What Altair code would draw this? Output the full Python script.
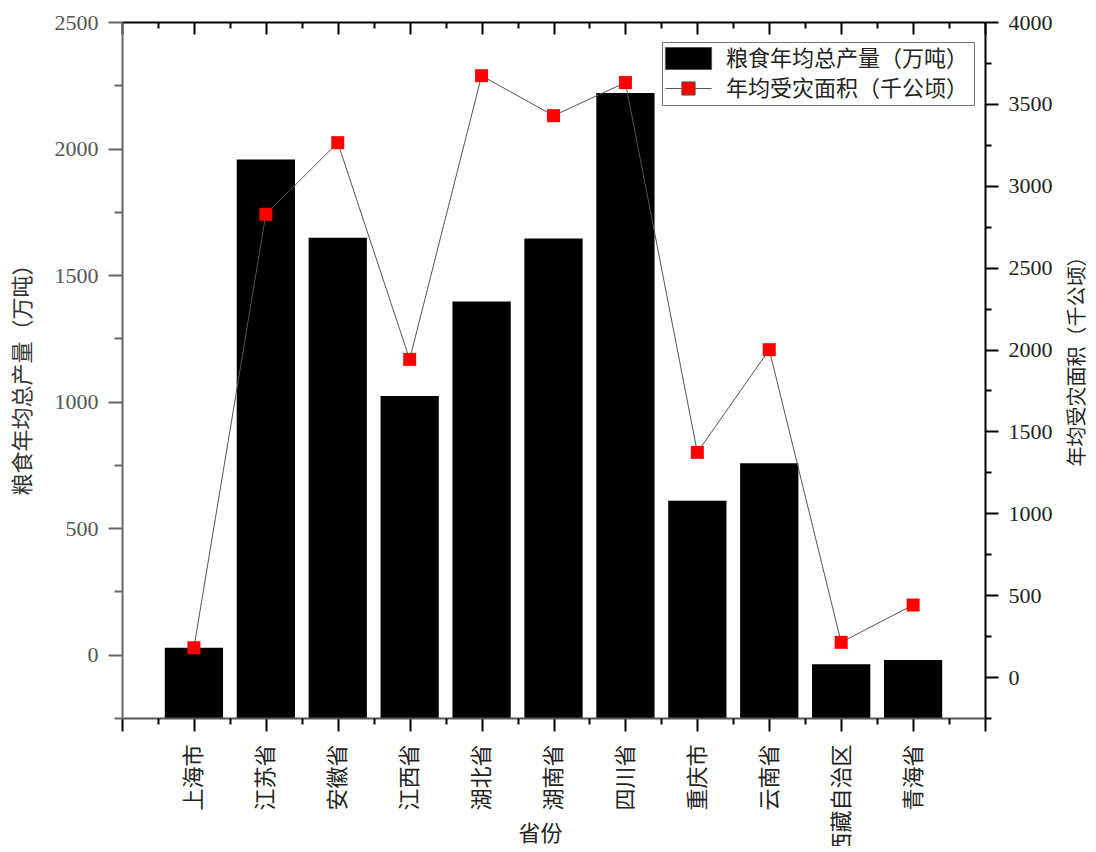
import altair as alt
import pandas as pd

# ---- data ----
provinces = ["上海市", "江苏省", "安徽省", "江西省", "湖北省", "湖南省",
             "四川省", "重庆市", "云南省", "西藏自治区", "青海省"]
grain = [28, 1957, 1648, 1022, 1396, 1645, 2219, 608, 757, -38, -21]          # 万吨 (left axis)
disaster = [179, 2826, 3263, 1940, 3672, 3428, 3630, 1372, 1999, 212, 440]    # 千公顷 (right axis)
series_names = ["粮食年均总产量（万吨）", "年均受灾面积（千公顷）"]
left_ticks = [0, 500, 1000, 1500, 2000, 2500]
left_minor = [-250, 250, 750, 1250, 1750, 2250]
right_ticks = [0, 500, 1000, 1500, 2000, 2500, 3000, 3500, 4000]
right_minor = [-250, 250, 750, 1250, 1750, 2250, 2750, 3250, 3750]
left_title = "粮食年均总产量（万吨）"
right_title = "年均受灾面积（千公顷）"
x_title = "省份"

df = pd.DataFrame({"province": provinces, "grain": grain, "disaster": disaster})
legend_df = pd.DataFrame({"series": series_names})

n = len(provinces)
W, H = 863, 696
FONT = "'Liberation Serif', 'Noto Sans CJK SC'"

xs = alt.Scale(domain=[0, n + 1], nice=False, zero=False)
yl = alt.Scale(domain=[-250, 2500], nice=False, zero=False)
yr = alt.Scale(domain=[-250, 4000], nice=False, zero=False)

x_major = list(range(0, n + 2))
x_minor = [i + 0.5 for i in range(0, n + 1)]
name_arr = "[" + ",".join("'" + p + "'" for p in provinces) + "]"
label_expr = f"datum.value >= 1 && datum.value <= {n} ? {name_arr}[datum.value - 1] : ''"

base = (
    alt.Chart(df)
    .transform_window(idx="row_number()")
    .transform_calculate(x0="datum.idx - 0.405", x1="datum.idx + 0.405", floor="-250")
)

bottom_major = alt.Axis(
    orient="bottom", values=x_major, labelExpr=label_expr, labelAngle=-90,
    labelFont=FONT, labelFontSize=22, labelColor="#222", labelPadding=13,
    labelFlush=False, labelOverlap=False,
    tickSize=13, tickWidth=2, tickColor="black", domainColor="#555", domainWidth=2,
    grid=False, title=x_title, titleFont=FONT, titleFontSize=22, titleFontWeight="normal",
    titleColor="#222", titleX=418, titleY=115, titleBaseline="middle", titleAlign="center",
    zindex=1,
)
bottom_minor = alt.Axis(
    orient="bottom", values=x_minor, labels=False, domain=False,
    tickSize=6, tickWidth=2, tickColor="black", grid=False, title=None, zindex=1,
)
top_major = alt.Axis(
    orient="bottom", offset=-H, values=x_major, labels=False,
    tickSize=12, tickWidth=2, tickColor="black", domainColor="black", domainWidth=2,
    grid=False, title=None, zindex=1,
)
top_minor = alt.Axis(
    orient="bottom", offset=-H, values=x_minor, labels=False, domain=False,
    tickSize=6, tickWidth=2, tickColor="black", grid=False, title=None, zindex=1,
)
left_major = alt.Axis(
    orient="left", values=left_ticks, format="d", tickSize=14, tickWidth=2, tickColor="#666",
    domainColor="#666", domainWidth=2, labelFont=FONT, labelFontSize=22, labelColor="#555",
    labelPadding=10, labelFlush=False, grid=False,
    title=left_title, titleFont=FONT, titleFontSize=22, titleFontWeight="normal",
    titleColor="#333", titleX=-100, titleY=352, titleAngle=-90, titleBaseline="middle",
    titleAlign="center", zindex=1,
)
left_min = alt.Axis(
    orient="left", values=left_minor, labels=False, domain=False,
    tickSize=8, tickWidth=2, tickColor="#666", grid=False, title=None, zindex=1,
)
right_major = alt.Axis(
    orient="right", values=right_ticks, format="d", tickSize=13, tickWidth=2, tickColor="black",
    domainColor="black", domainWidth=2, labelFont=FONT, labelFontSize=22, labelColor="#222",
    labelPadding=10, labelFlush=False, grid=False,
    title=right_title, titleFont=FONT, titleFontSize=20, titleFontWeight="normal",
    titleColor="#222", titleX=92, titleY=334, titleAngle=-90, titleBaseline="middle",
    titleAlign="center", zindex=1,
)
right_min = alt.Axis(
    orient="right", values=right_minor, labels=False, domain=False,
    tickSize=6, tickWidth=2, tickColor="black", grid=False, title=None, zindex=1,
)

bars = base.mark_bar(color="black").encode(
    x=alt.X("x0:Q", scale=xs, axis=bottom_major),
    x2="x1:Q",
    y=alt.Y("grain:Q", scale=yl, axis=left_major),
    y2="floor:Q",
)

line = base.mark_line(color="#555", strokeWidth=1).encode(
    x=alt.X("idx:Q", scale=xs, axis=bottom_minor),
    y=alt.Y("disaster:Q", scale=yr, axis=right_major),
)

points = base.mark_point(shape="square", filled=True, color="red", size=169, opacity=1).encode(
    x=alt.X("idx:Q", scale=xs, axis=top_major),
    y=alt.Y("disaster:Q", scale=yr, axis=right_min),
)

ghost = base.mark_point(opacity=0).encode(
    x=alt.X("idx:Q", scale=xs, axis=top_minor),
    y=alt.Y("grain:Q", scale=yl, axis=left_min),
)

rect_path = "M-2.1,-1H2.1V1H-2.1Z"
linesq_path = "M-2.1,0H-0.6M0.6,0H2.1M-0.6,-0.6H0.6V0.6H-0.6Z"
legend_def = alt.Legend(
    orient="none", legendX=540, legendY=20, title=None,
    labelFont=FONT, labelFontSize=22, labelColor="#222", labelLimit=400,
    symbolSize=484, symbolStrokeWidth=1, symbolOpacity=1,
    symbolOffset=10, labelOffset=26, padding=5, rowPadding=5,
    strokeColor="#777", fillColor="white",
)
legend_layer = alt.Chart(legend_df).mark_point(
    stroke="#555", strokeWidth=1, opacity=0, size=484
).encode(
    fill=alt.Fill("series:N", scale=alt.Scale(domain=series_names, range=["black", "red"]),
                  legend=legend_def, sort=series_names),
    shape=alt.Shape("series:N", scale=alt.Scale(domain=series_names, range=[rect_path, linesq_path]),
                    legend=legend_def, sort=series_names),
)

chart = (
    alt.layer(bars, line, points, ghost, legend_layer)
    .resolve_scale(x="independent", y="independent")
    .properties(
        width=W, height=H,
        autosize=alt.AutoSizeParams(type="none"),
        padding={"left": 114, "top": 14, "right": 103, "bottom": 128},
        background="white",
    )
    .configure_view(strokeWidth=0)
)

chart.save("out.html", embed_options={"renderer": "svg", "actions": False})
